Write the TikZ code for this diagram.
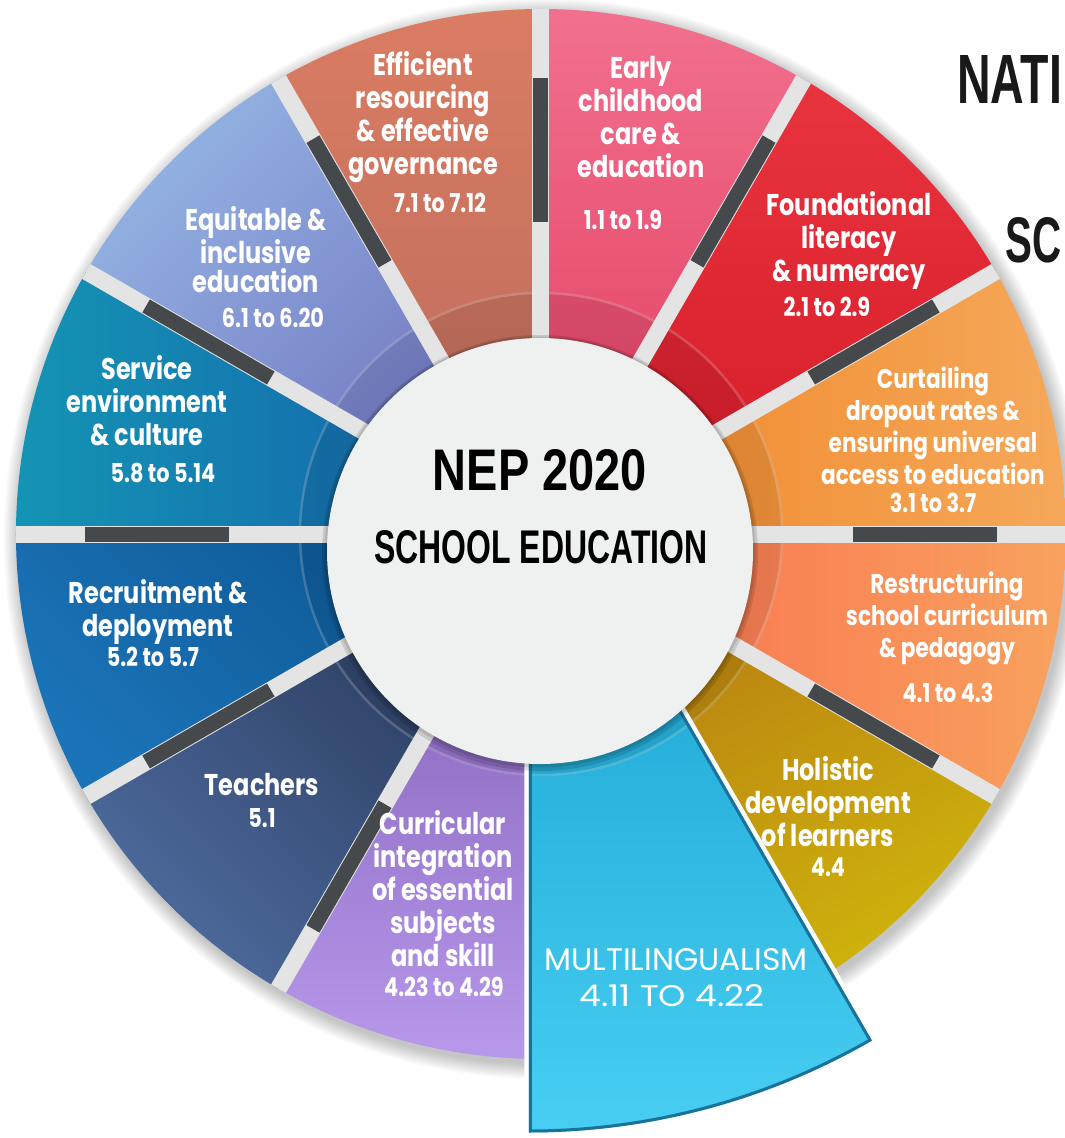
\documentclass[tikz,border=0pt]{standalone}
\usepackage{fontspec}
\newfontfamily\segf[FakeStretch=0.8]{Poppins}
\newfontfamily\multif[FakeStretch=0.92]{Poppins}
\newfontfamily\ctrf[FakeStretch=0.8]{Liberation Sans}
\definecolor{gapc}{HTML}{E4E4E4}
\definecolor{barc}{HTML}{46494C}
\definecolor{mline}{HTML}{1A7299}
\definecolor{ctrfill}{HTML}{EFF0F0}
\definecolor{multiA}{HTML}{0E9BCB}
\definecolor{multiB}{HTML}{48CEF2}
\newcommand{\wheelseg}[5]{%
  \definecolor{segA}{HTML}{#3}\definecolor{segB}{HTML}{#4}%
  \path[top color=segA, bottom color=segB, shading angle=#5]
    (0,0) -- (#1:525) arc[start angle=#1, end angle=#2, radius=525] -- cycle;}
\tikzset{
  lbl/.style={text=white, align=center, inner sep=0pt,
    font=\segf\bfseries\fontsize{30}{33}\selectfont},
  lblsm/.style={lbl, font=\segf\bfseries\fontsize{27}{32}\selectfont},
  num/.style={text=white, align=center, inner sep=0pt,
    font=\segf\bfseries\fontsize{26}{30}\selectfont},
  mtxt/.style={text=white, inner sep=0pt},
  gapline/.style={draw=gapc, line width=17pt},
  darkbar/.style={draw=barc, line width=15pt},
  ringband/.style={fill=black, opacity=0.08},
  ringedge/.style={draw=white, opacity=0.2, line width=2.5pt},
}
\begin{document}
\begin{tikzpicture}[x=1pt,y=1pt]
\useasboundingbox (-541,-604) rectangle (524,534);
\fill[white] (-541,-604) rectangle (524,534);
% soft shadow
\foreach \i in {1,...,10} \fill[black,opacity=0.022] (3,-5) circle ({524+\i*1.6});
% segments
\wheelseg{60}{90}{F2708F}{E23A5C}{0}
\wheelseg{30}{60}{E8343F}{D61A28}{0}
\wheelseg{0}{30}{EE8424}{F6A85A}{90}
\wheelseg{-30}{0}{FA6A4E}{F8A25E}{90}
\wheelseg{-60}{-30}{B57812}{CFB30C}{30}
\wheelseg{-120}{-90}{7C5AB3}{B798EA}{0}
\wheelseg{-150}{-120}{263657}{4C6A9C}{-45}
\wheelseg{-180}{-150}{0C5592}{1B74B8}{-45}
\wheelseg{150}{180}{1494B4}{155DAA}{90}
\wheelseg{120}{150}{93B2E2}{6F72BE}{45}
\wheelseg{90}{120}{DA7C62}{BA6A5C}{0}
% ring band
\fill[ringband] (0,0) circle (242);
\draw[ringedge] (0,0) circle (241);
% gaps and dark bars
\foreach \a in {0,30,...,330} {
  \draw[gapline] (\a:150) -- (\a:525);
  \draw[darkbar] (\a:312) -- (\a:456);
}
% popped-out segment
\coordinate (mA) at (-12,87.5);
\draw[white, line width=9pt, line join=miter]
  (mA) -- ++(-90:686) arc[start angle=-90, end angle=-60, radius=686] -- cycle;
\path[top color=multiA, bottom color=multiB]
  (mA) -- ++(-90:686) arc[start angle=-90, end angle=-60, radius=686] -- cycle;
\begin{scope}
  \clip (mA) -- ++(-90:686) arc[start angle=-90, end angle=-60, radius=686] -- cycle;
  \fill[ringband] (0,0) circle (242);
  \draw[ringedge] (0,0) circle (241);
  \draw[mline, line width=6pt]
    (mA) -- ++(-90:686) arc[start angle=-90, end angle=-60, radius=686] -- cycle;
\end{scope}
% centre disc
\fill[black,opacity=0.12] (-1,-19) circle (218);
\fill[black,opacity=0.10] (-1,-18) circle (215.5);
\node[circle, fill=ctrfill, minimum size=426pt, inner sep=0pt] (hub) at (-1,-17) {};
\node[inner sep=0pt] (nep) at (-1,64)
  {\resizebox{214pt}{41pt}{\ctrf\bfseries NEP 2020}};
\node[inner sep=0pt] (school) at (0,-13)
  {\resizebox{333pt}{33pt}{\ctrf\bfseries SCHOOL EDUCATION}};
% labels
\node[lbl] (early) at (100,417) {Early\\childhood\\care \&\\education};
\node[num] (earlyn) at (82,314) {1.1 to 1.9};
\node[lbl] (effic) at (-118,417) {Efficient\\resourcing\\\& effective\\governance};
\node[num] (efficn) at (-101,331) {7.1 to 7.12};
\node[lbl] (found) at (308,294) {Foundational\\literacy\\\& numeracy};
\node[num] (foundn) at (286,227) {2.1 to 2.9};
\node[lblsm] (curt) at (392,108) {Curtailing\\dropout rates \&\\ensuring universal\\access to education};
\node[num] (curtn) at (392,31) {3.1 to 3.7};
\node[lblsm] (restr) at (406,-84) {Restructuring\\school curriculum\\\& pedagogy};
\node[num] (restrn) at (407,-159) {4.1 to 4.3};
\node[lbl] (holis) at (287,-268) {Holistic\\development\\of learners};
\node[num] (holisn) at (287,-333) {4.4};
\node[mtxt] (multi) at (135,-426)
  {\resizebox{263pt}{22pt}{\multif MULTILINGUALISM}};
\node[mtxt] (multin) at (131,-462)
  {\resizebox{185pt}{22pt}{\multif 4.11 TO 4.22}};
\node[lbl] (curric) at (-98,-355) {Curricular\\integration\\of essential\\subjects\\and skill};
\node[num] (curricn) at (-97,-453) {4.23 to 4.29};
\node[lbl] (teach) at (-279,-251) {Teachers};
\node[num] (teachn) at (-279,-284) {5.1};
\node[lbl] (recr) at (-383,-78) {Recruitment \&\\deployment};
\node[num] (recrn) at (-388,-123) {5.2 to 5.7};
\node[lbl] (serv) at (-394,133) {Service\\environment\\\& culture};
\node[num] (servn) at (-378,61) {5.8 to 5.14};
\node[lbl, font=\segf\bfseries\fontsize{30}{29}\selectfont] (equit) at (-285,284) {Equitable \&\\inclusive\\education};
\node[num] (equitn) at (-268,216) {6.1 to 6.20};
% title fragments at top right
\node[anchor=west, inner sep=0pt, text=black!90] (nati) at (416,454)
  {\resizebox{105pt}{48pt}{\ctrf\bfseries NATI}};
\node[anchor=west, inner sep=0pt, text=black!90] (sc) at (464,294)
  {\resizebox{56pt}{45pt}{\ctrf\bfseries SC}};
\end{tikzpicture}
\end{document}
